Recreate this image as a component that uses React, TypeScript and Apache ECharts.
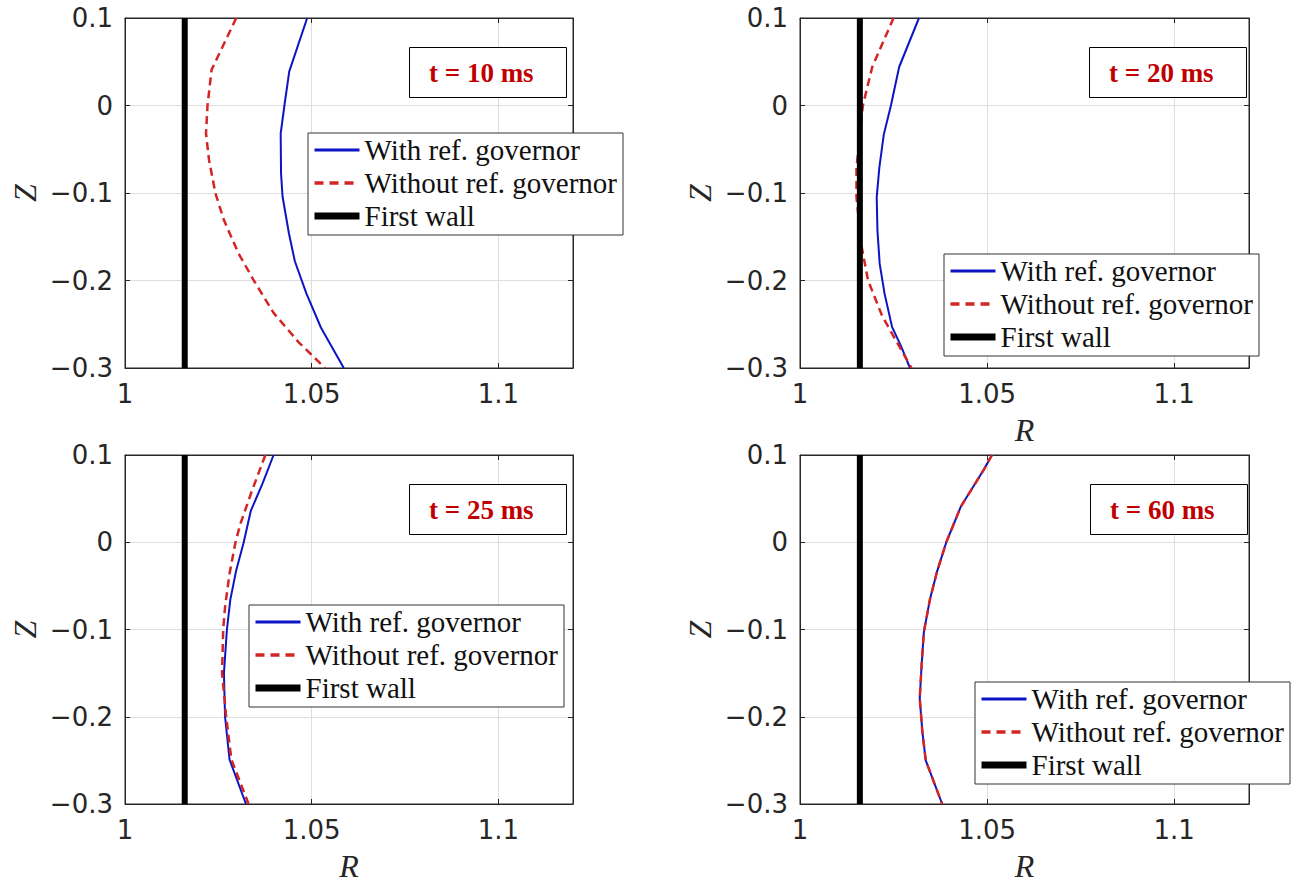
import React, { useEffect, useRef } from 'react';
import * as echarts from 'echarts';

// ---- data ----
const seriesNames = ['With ref. governor', 'Without ref. governor', 'First wall'];
const panelLabels = ['t = 10 ms', 't = 20 ms', 't = 25 ms', 't = 60 ms'];
const wallR = 1.016;
const wallZ = [-0.3, 0.1];

// t = 10 ms
const tl_withZ = [0.1, 0.039, 0, -0.032, -0.078, -0.104, -0.146, -0.178, -0.215, -0.254, -0.3];
const tl_withR = [1.0488, 1.044, 1.0427, 1.0417, 1.0418, 1.0422, 1.0439, 1.0455, 1.0486, 1.0525, 1.0586];
const tl_woZ = [0.1, 0.041, 0, -0.032, -0.062, -0.1, -0.131, -0.169, -0.2, -0.237, -0.271, -0.3];
const tl_woR = [1.0298, 1.0232, 1.0221, 1.0217, 1.0225, 1.0242, 1.0265, 1.0304, 1.0345, 1.0398, 1.0466, 1.0536];

// t = 20 ms
const tr_withZ = [0.1, 0.044, 0, -0.033, -0.071, -0.105, -0.143, -0.181, -0.215, -0.253, -0.275, -0.3];
const tr_withR = [1.0318, 1.0265, 1.0243, 1.0224, 1.0212, 1.0205, 1.0207, 1.0213, 1.0226, 1.0246, 1.027, 1.0294];
const tr_woZ = [0.1, 0.044, 0, -0.033, -0.071, -0.105, -0.143, -0.162, -0.2, -0.241, -0.275, -0.3];
const tr_woR = [1.025, 1.0193, 1.0168, 1.016, 1.0151, 1.0151, 1.016, 1.0165, 1.0182, 1.022, 1.0265, 1.0298];

// t = 25 ms
const bl_withZ = [0.1, 0.067, 0.036, 0, -0.032, -0.066, -0.1, -0.15, -0.2, -0.249, -0.3];
const bl_withR = [1.0398, 1.0368, 1.0337, 1.0318, 1.0298, 1.0282, 1.0273, 1.0265, 1.0268, 1.028, 1.0324];
const bl_woZ = [0.1, 0.059, 0.021, 0, -0.036, -0.074, -0.1, -0.15, -0.2, -0.249, -0.3];
const bl_woR = [1.0376, 1.034, 1.0309, 1.0296, 1.028, 1.0268, 1.0263, 1.026, 1.0271, 1.0285, 1.0331];

// t = 60 ms
const br_withZ = [0.1, 0.083, 0.041, 0, -0.034, -0.066, -0.103, -0.141, -0.179, -0.217, -0.25, -0.3];
const br_withR = [1.0513, 1.0491, 1.043, 1.0391, 1.0366, 1.0347, 1.0331, 1.0325, 1.032, 1.0327, 1.0336, 1.038];
const br_woZ = [0.1, 0.083, 0.041, 0, -0.034, -0.066, -0.103, -0.141, -0.179, -0.217, -0.25, -0.3];
const br_woR = [1.0513, 1.0491, 1.043, 1.0391, 1.0366, 1.0347, 1.0331, 1.0325, 1.032, 1.0327, 1.0336, 1.038];

const xMin = 1, xMax = 1.12, xInterval = 0.05;
const yMin = -0.3, yMax = 0.1, yInterval = 0.1;

const zip = (r: number[], z: number[]) => r.map((v, i) => [v, z[i]]);

const panels = [
  { withR: tl_withR, withZ: tl_withZ, woR: tl_woR, woZ: tl_woZ },
  { withR: tr_withR, withZ: tr_withZ, woR: tr_woR, woZ: tr_woZ },
  { withR: bl_withR, withZ: bl_withZ, woR: bl_woR, woZ: bl_woZ },
  { withR: br_withR, withZ: br_withZ, woR: br_woR, woZ: br_woZ },
];

// ---- layout ----
const grids = [
  { left: 125, top: 18, width: 448, height: 350, xName: '' },
  { left: 800, top: 18, width: 449, height: 350, xName: 'R' },
  { left: 125, top: 455, width: 448, height: 350, xName: 'R' },
  { left: 800, top: 455, width: 449, height: 350, xName: 'R' },
];
const legendPos = [
  { left: 308, top: 133 },
  { left: 944, top: 254 },
  { left: 249, top: 605 },
  { left: 975, top: 682 },
];
const titlePos = [
  { left: 409, top: 47 },
  { left: 1089, top: 47 },
  { left: 409, top: 484 },
  { left: 1090, top: 484 },
];

const BLUE = '#0c14c4';
const RED = '#d42424';
const AXIS = '#262626';
const GRIDC = '#dedede';
const TICKFONT = 'DejaVu Sans';
const SERIF = 'Liberation Serif';

const fmtX = (v: number) => {
  const r = Math.round(v * 100) / 100;
  if (Math.abs(r / xInterval - Math.round(r / xInterval)) > 1e-6) return '';
  return String(r);
};
const fmtY = (v: number) => {
  const r = Math.round(v * 10) / 10;
  if (r === 0) return '0';
  return String(r).replace('-', '\u2212');
};

export default function App() {
  const ref = useRef<HTMLDivElement>(null);
  useEffect(() => {
    document.body.style.margin = '0';
    if (!ref.current) return;
    const chart = echarts.init(ref.current, undefined, { renderer: 'svg' });

    const xAxis: any[] = [];
    const yAxis: any[] = [];
    const series: any[] = [];

    grids.forEach((g, i) => {
      xAxis.push({
        type: 'value', gridIndex: i, min: xMin, max: xMax, interval: xInterval, position: 'bottom',
        name: g.xName, nameLocation: 'middle', nameGap: 46,
        nameTextStyle: { fontFamily: SERIF, fontStyle: 'italic', fontSize: 32, color: AXIS },
        axisLine: { show: true, onZero: false, lineStyle: { color: AXIS, width: 1 } },
        axisTick: { show: true, inside: true, length: 5, lineStyle: { color: AXIS } },
        axisLabel: { show: true, margin: 13, fontFamily: TICKFONT, fontSize: 26, color: AXIS, formatter: fmtX, showMaxLabel: false },
        splitLine: { show: true, lineStyle: { color: GRIDC, width: 1 } },
      });
      xAxis.push({
        type: 'value', gridIndex: i, min: xMin, max: xMax, interval: xInterval, position: 'top',
        axisLine: { show: true, onZero: false, lineStyle: { color: AXIS, width: 1 } },
        axisTick: { show: true, inside: true, length: 5, lineStyle: { color: AXIS } },
        axisLabel: { show: false },
        splitLine: { show: false },
      });
      yAxis.push({
        type: 'value', gridIndex: i, min: yMin, max: yMax, interval: yInterval, position: 'left',
        name: 'Z', nameLocation: 'middle', nameGap: 84, nameRotate: 90,
        nameTextStyle: { fontFamily: SERIF, fontStyle: 'italic', fontSize: 32, color: AXIS },
        axisLine: { show: true, onZero: false, lineStyle: { color: AXIS, width: 1 } },
        axisTick: { show: true, inside: true, length: 5, lineStyle: { color: AXIS } },
        axisLabel: { show: true, margin: 12, fontFamily: TICKFONT, fontSize: 26, color: AXIS, formatter: fmtY },
        splitLine: { show: true, lineStyle: { color: GRIDC, width: 1 } },
      });
      yAxis.push({
        type: 'value', gridIndex: i, min: yMin, max: yMax, interval: yInterval, position: 'right',
        axisLine: { show: true, onZero: false, lineStyle: { color: AXIS, width: 1 } },
        axisTick: { show: true, inside: true, length: 5, lineStyle: { color: AXIS } },
        axisLabel: { show: false },
        splitLine: { show: false },
      });

      const p = panels[i];
      series.push({
        type: 'line', name: seriesNames[0], xAxisIndex: 2 * i, yAxisIndex: 2 * i,
        data: zip(p.withR, p.withZ), symbol: 'none', showSymbol: false,
        lineStyle: { color: BLUE, width: 2 }, itemStyle: { color: BLUE }, z: 3,
      });
      series.push({
        type: 'line', name: seriesNames[1], xAxisIndex: 2 * i, yAxisIndex: 2 * i,
        data: zip(p.woR, p.woZ), symbol: 'none', showSymbol: false,
        lineStyle: { color: RED, width: 2.5, type: [8, 5] }, itemStyle: { color: RED }, z: 4,
      });
      series.push({
        type: 'line', name: seriesNames[2], xAxisIndex: 2 * i, yAxisIndex: 2 * i,
        data: wallZ.map((z) => [wallR, z]), symbol: 'none', showSymbol: false,
        lineStyle: { color: '#000', width: 6 }, itemStyle: { color: '#000' }, z: 5,
      });
    });

    const legendLines = [
      { color: BLUE, width: 3, type: 'solid' },
      { color: RED, width: 3.5, type: [9, 6] },
      { color: '#000', width: 7, type: 'solid' },
    ];

    const legend = legendPos.map((lp) => ({
      left: lp.left, top: lp.top, orient: 'vertical', selectedMode: false,
      backgroundColor: '#fff', borderColor: '#333', borderWidth: 1,
      padding: [2, 6, 4, 3], itemGap: 3, itemWidth: 45, itemHeight: 14,
      textStyle: { fontFamily: SERIF, fontSize: 29, color: '#111', lineHeight: 30 },
      itemStyle: { opacity: 0 },
      data: seriesNames.map((n, k) => ({ name: n, itemStyle: { opacity: 0 }, lineStyle: legendLines[k] })),
    }));

    const title = titlePos.map((tp, i) => ({
      text: panelLabels[i], left: tp.left, top: tp.top,
      padding: [12, 33, 11, 20], borderColor: '#000', borderWidth: 1, backgroundColor: '#fff',
      textStyle: { fontFamily: SERIF, fontWeight: 'bold', fontSize: 27, color: '#c00000', lineHeight: 28 },
    }));

    chart.setOption({
      animation: false,
      backgroundColor: '#fff',
      grid: grids.map((g) => ({ left: g.left, top: g.top, width: g.width, height: g.height, show: true, borderColor: AXIS, borderWidth: 1, backgroundColor: '#fff' })),
      xAxis, yAxis, series, legend, title,
    });
    return () => chart.dispose();
  }, []);
  return <div ref={ref} style={{ width: 1307, height: 883 }} />;
}
